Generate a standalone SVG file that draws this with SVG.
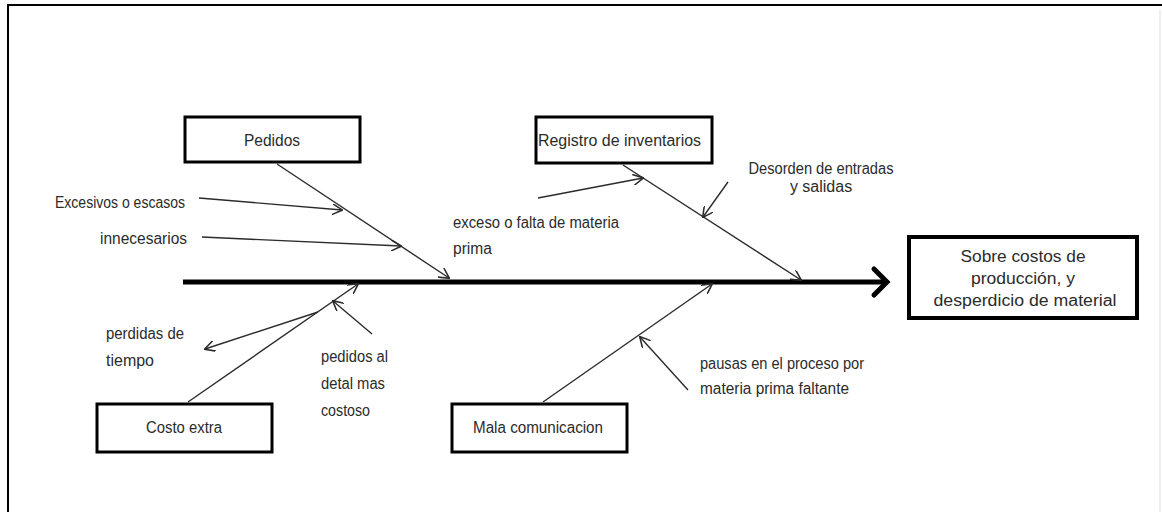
<svg xmlns="http://www.w3.org/2000/svg" width="1162" height="512" viewBox="0 0 1162 512">
<defs>
<style>
text{font-family:"Liberation Sans",Arial,sans-serif;fill:#2b2b2b;font-size:16px}
.c{text-anchor:middle}
.box{fill:#fff;stroke:#000;stroke-width:3}
.ar{stroke:#2b2b2b;stroke-width:1.4;fill:none;marker-end:url(#v)}
</style>
<marker id="v" viewBox="0 0 10 10" refX="9" refY="5" markerWidth="11" markerHeight="11" markerUnits="userSpaceOnUse" orient="auto">
<path d="M0,0 L9.5,5 L0,10" fill="none" stroke="#2b2b2b" stroke-width="1.4"/>
</marker>
<filter id="sh" x="-5%" y="-100%" width="110%" height="300%"><feGaussianBlur stdDeviation="1.5"/></filter>
</defs>
<rect width="1162" height="512" fill="#fff"/>
<path d="M8,512 V5 H1162" fill="none" stroke="#000" stroke-width="2"/>
<line x1="1160" y1="10" x2="1160" y2="512" stroke="#ddd" stroke-width="1"/>
<g id="connectors">
<line x1="184" y1="285" x2="884" y2="285" stroke="#999" stroke-width="5" filter="url(#sh)"/>
<line x1="183" y1="282" x2="884" y2="282" stroke="#000" stroke-width="5"/>
<polyline points="874,269 887,282 874,295" fill="none" stroke="#000" stroke-width="5" stroke-linecap="round" stroke-linejoin="miter"/>
<line class="ar" x1="277" y1="164" x2="449" y2="278"/>
<line class="ar" x1="623" y1="165" x2="801" y2="280"/>
<line class="ar" x1="188" y1="402" x2="358" y2="284"/>
<line class="ar" x1="543" y1="402" x2="712" y2="284"/>
<line class="ar" x1="199" y1="198" x2="342" y2="210"/>
<line class="ar" x1="202" y1="237" x2="401" y2="246"/>
<line class="ar" x1="538" y1="198" x2="643" y2="178"/>
<line class="ar" x1="728" y1="182" x2="703" y2="217"/>
<line class="ar" x1="318" y1="312" x2="205" y2="349"/>
<line class="ar" x1="372" y1="334" x2="333" y2="301"/>
<line class="ar" x1="688" y1="390" x2="640" y2="337"/>
</g>
<g id="pedidos">
<rect class="box" x="185" y="117" width="175" height="45"/>
<text class="c" x="272" y="146" textLength="56" lengthAdjust="spacingAndGlyphs">Pedidos</text>
</g>
<g id="registro">
<rect class="box" x="536" y="117" width="176" height="46"/>
<text x="538" y="146" textLength="163" lengthAdjust="spacingAndGlyphs">Registro de inventarios</text>
</g>
<g id="costo-extra">
<rect class="box" x="97" y="404" width="175" height="48"/>
<text class="c" x="184" y="433" textLength="76" lengthAdjust="spacingAndGlyphs">Costo extra</text>
</g>
<g id="mala-comunicacion">
<rect class="box" x="452" y="404" width="175" height="48"/>
<text class="c" x="538" y="433" textLength="130" lengthAdjust="spacingAndGlyphs">Mala comunicacion</text>
</g>
<g id="efecto">
<rect x="909" y="237" width="228" height="81" fill="#fff" stroke="#000" stroke-width="4"/>
<text class="c" x="1023" y="262" font-size="17" textLength="125" lengthAdjust="spacingAndGlyphs">Sobre costos de</text>
<text class="c" x="1023" y="284" font-size="17" textLength="104" lengthAdjust="spacingAndGlyphs">producción, y</text>
<text class="c" x="1025" y="306" font-size="17" textLength="183" lengthAdjust="spacingAndGlyphs">desperdicio de material</text>
</g>
<g id="causas">
<text x="55" y="208" textLength="130" lengthAdjust="spacingAndGlyphs">Excesivos o escasos</text>
<text x="100" y="244" textLength="87" lengthAdjust="spacingAndGlyphs">innecesarios</text>
<text x="453" y="228" textLength="166" lengthAdjust="spacingAndGlyphs">exceso o falta de materia</text>
<text x="453" y="254" textLength="39" lengthAdjust="spacingAndGlyphs">prima</text>
<text class="c" x="821" y="174" font-size="14" textLength="145" lengthAdjust="spacingAndGlyphs">Desorden de entradas</text>
<text class="c" x="821" y="192" font-size="14">y salidas</text>
<text x="106" y="339" textLength="78" lengthAdjust="spacingAndGlyphs">perdidas de</text>
<text x="106" y="366" textLength="48" lengthAdjust="spacingAndGlyphs">tiempo</text>
<text x="321" y="362" textLength="67" lengthAdjust="spacingAndGlyphs">pedidos al</text>
<text x="321" y="389" textLength="64" lengthAdjust="spacingAndGlyphs">detal mas</text>
<text x="321" y="416" textLength="49" lengthAdjust="spacingAndGlyphs">costoso</text>
<text x="700" y="369" textLength="164" lengthAdjust="spacingAndGlyphs">pausas en el proceso por</text>
<text x="700" y="394" textLength="149" lengthAdjust="spacingAndGlyphs">materia prima faltante</text>
</g>
</svg>
